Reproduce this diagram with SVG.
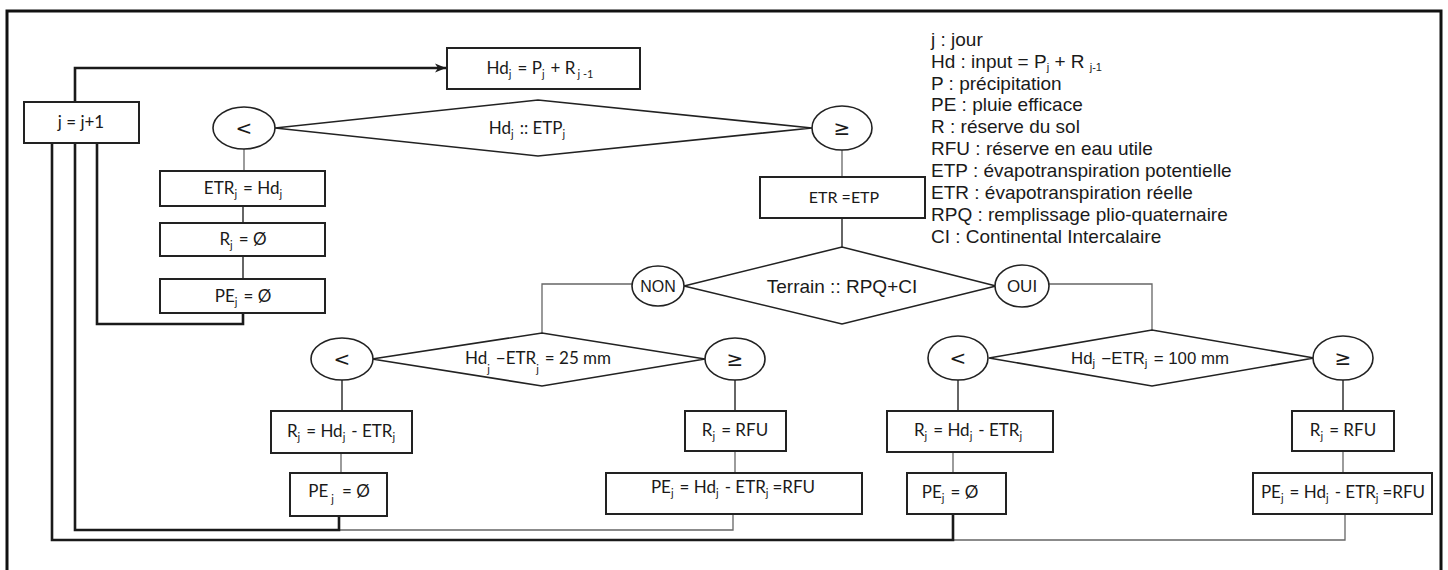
<svg xmlns="http://www.w3.org/2000/svg" width="1448" height="570" viewBox="0 0 1448 570">
<defs>
<marker id="arr" markerWidth="12" markerHeight="10" refX="11" refY="5" orient="auto" markerUnits="userSpaceOnUse">
<path d="M0,0.5 L11,5 L0,9.5 L3,5 Z" fill="#1a1a1a"/>
</marker>
<style>
.box{fill:#fff;stroke:#222;stroke-width:2}
.ell{fill:#fff;stroke:#222;stroke-width:1.6}
.dia{fill:#fff;stroke:#222;stroke-width:1.6}
.t{font-family:Lato,"Open Sans","Liberation Sans",sans-serif;font-size:17px;fill:#1a1a1a}
.g{font-family:"DejaVu Sans","Liberation Sans",sans-serif;font-size:20px;fill:#1a1a1a}
.a{font-family:"Liberation Sans",Arial,sans-serif;fill:#1a1a1a}
.lg{font-family:"Liberation Sans",Arial,sans-serif;font-size:19px;fill:#1a1a1a}
.s{font-size:11px}
.thick{fill:none;stroke:#1a1a1a;stroke-width:2.6}
.thin{fill:none;stroke:#666;stroke-width:1.3}
.med{fill:none;stroke:#333;stroke-width:1.5}
</style>
</defs>
<rect width="1448" height="570" fill="#fff"/>
<path d="M7,575 V11 H1441 V575" fill="none" stroke="#111" stroke-width="3"/>

<g id="connectors">
<path class="thick" d="M75,102 V68 H446" marker-end="url(#arr)"/>
<path class="thin" d="M244,149 V171"/>
<path class="med" d="M243,206 V223"/>
<path class="med" d="M243,256 V279"/>
<path class="thick" d="M243,313 V324 H97 V143"/>
<path class="thin" d="M842,150 V177"/>
<path class="med" d="M842,218 V247"/>
<path class="thin" d="M632,284 H542 V333"/>
<path class="thin" d="M1049,284 H1152 V330"/>
<path class="med" d="M342,380 V411"/>
<path class="thin" d="M341,453 V473"/>
<path class="thin" d="M733,514 V530 H339"/>
<path class="thick" d="M339,516 V530 H75 V143"/>
<path class="med" d="M735,380 V411"/>
<path class="thin" d="M735,451 V473"/>
<path class="med" d="M958,380 V411"/>
<path class="thin" d="M953,452 V473"/>
<path class="thin" d="M1345,514 V540 H953"/>
<path class="thick" d="M953,514 V540 H52 V143"/>
<path class="med" d="M1343,380 V411"/>
<path class="thin" d="M1343,451 V473"/>
</g>

<g id="n-inc">
<rect class="box" x="24" y="102" width="115" height="41"/>
<text class="t" x="81" y="128" text-anchor="middle">j = j+1</text>
</g>

<g id="n-hd">
<rect class="box" x="447" y="48" width="193" height="41"/>
<text class="t" x="540" y="74" text-anchor="middle">Hd<tspan class="s" dy="4">j</tspan><tspan dy="-4" dx="6">= P</tspan><tspan class="s" dy="4">j</tspan><tspan dy="-4" dx="6">+ R</tspan><tspan class="s" dy="4" dx="2">j  -1</tspan></text>
</g>

<g id="n-d1">
<polygon class="dia" points="275,128 538,100 812,128 538,156"/>
<text class="t" x="527" y="134" text-anchor="middle">Hd<tspan class="s" dy="4">j</tspan><tspan dy="-4" dx="6">:: ETP</tspan><tspan class="s" dy="4">j</tspan></text>
</g>

<g id="n-lt1">
<ellipse class="ell" cx="244" cy="128" rx="31" ry="21"/>
<text class="g" x="244" y="135" text-anchor="middle">&lt;</text>
</g>

<g id="n-ge1">
<ellipse class="ell" cx="842" cy="128" rx="30" ry="22"/>
<text class="g" x="842" y="135" text-anchor="middle">≥</text>
</g>

<g id="n-etr1">
<rect class="box" x="160" y="171" width="165" height="35"/>
<text class="t" x="243" y="194" text-anchor="middle">ETR<tspan class="s" dy="4">j</tspan><tspan dy="-4" dx="6">= Hd</tspan><tspan class="s" dy="4">j</tspan></text>
</g>

<g id="n-r1">
<rect class="box" x="160" y="223" width="165" height="33"/>
<text class="t" x="243" y="245" text-anchor="middle">R<tspan class="s" dy="4">j</tspan><tspan dy="-4" dx="6">= Ø</tspan></text>
</g>

<g id="n-pe1">
<rect class="box" x="160" y="279" width="165" height="34"/>
<text class="t" x="243" y="302" text-anchor="middle">PE<tspan class="s" dy="4">j</tspan><tspan dy="-4" dx="6">= Ø</tspan></text>
</g>

<g id="n-etp">
<rect class="box" x="760" y="177" width="165" height="41"/>
<text class="t" x="844" y="203" text-anchor="middle" style="font-size:16px">ETR =ETP</text>
</g>

<g id="n-terrain">
<polygon class="dia" points="684,286 842,247 996,286 842,324"/>
<text class="a" x="842" y="293" text-anchor="middle" font-size="19">Terrain  :: RPQ+CI</text>
</g>

<g id="n-non">
<ellipse class="ell" cx="658" cy="286" rx="26" ry="20"/>
<text class="a" x="658" y="292" text-anchor="middle" font-size="16">NON</text>
</g>

<g id="n-oui">
<ellipse class="ell" cx="1022" cy="286" rx="27" ry="21"/>
<text class="a" x="1022" y="292" text-anchor="middle" font-size="17">OUI</text>
</g>

<g id="n-d25">
<polygon class="dia" points="372,359 542,333 705,359 542,386"/>
<text class="t" x="538" y="364" text-anchor="middle">Hd<tspan class="s" dy="9">j</tspan><tspan dy="-9" dx="6">−ETR</tspan><tspan class="s" dy="9">j</tspan><tspan dy="-9" dx="6">= 25 mm</tspan></text>
</g>

<g id="n-lt2">
<ellipse class="ell" cx="342" cy="359" rx="31" ry="21"/>
<text class="g" x="342" y="366" text-anchor="middle">&lt;</text>
</g>

<g id="n-ge2">
<ellipse class="ell" cx="735" cy="359" rx="30" ry="21"/>
<text class="g" x="735" y="366" text-anchor="middle">≥</text>
</g>

<g id="n-r2">
<rect class="box" x="271" y="411" width="141" height="42"/>
<text class="t" x="341" y="437" text-anchor="middle">R<tspan class="s" dy="4">j</tspan><tspan dy="-4" dx="6">= Hd</tspan><tspan class="s" dy="4">j</tspan><tspan dy="-4" dx="6">- ETR</tspan><tspan class="s" dy="4">j</tspan></text>
</g>

<g id="n-pe2">
<rect class="box" x="290" y="473" width="97" height="43"/>
<text class="t" x="339" y="497" text-anchor="middle">PE<tspan class="s" dy="6" dx="3">j</tspan><tspan dy="-6" dx="8">= Ø</tspan></text>
</g>

<g id="n-r3">
<rect class="box" x="685" y="411" width="101" height="40"/>
<text class="t" x="735" y="436" text-anchor="middle">R<tspan class="s" dy="4">j</tspan><tspan dy="-4" dx="6">= RFU</tspan></text>
</g>

<g id="n-pe3">
<rect class="box" x="606" y="473" width="256" height="41"/>
<text class="t" x="733" y="493" text-anchor="middle">PE<tspan class="s" dy="4">j</tspan><tspan dy="-4" dx="6">= Hd</tspan><tspan class="s" dy="4">j</tspan><tspan dy="-4" dx="6">- ETR</tspan><tspan class="s" dy="4">j</tspan><tspan dy="-4" dx="4">=RFU</tspan></text>
</g>

<g id="n-d100">
<polygon class="dia" points="989,358 1152,330 1314,358 1152,386"/>
<text class="a" x="1150" y="364" text-anchor="middle" font-size="16" textLength="158" lengthAdjust="spacingAndGlyphs">Hd<tspan class="s" dy="3">j</tspan><tspan dy="-3" dx="6">−ETR</tspan><tspan class="s" dy="3">j</tspan><tspan dy="-3" dx="6">= 100 mm</tspan></text>
</g>

<g id="n-lt3">
<ellipse class="ell" cx="958" cy="358" rx="30" ry="22"/>
<text class="g" x="958" y="365" text-anchor="middle">&lt;</text>
</g>

<g id="n-ge3">
<ellipse class="ell" cx="1343" cy="358" rx="30" ry="22"/>
<text class="g" x="1343" y="365" text-anchor="middle">≥</text>
</g>

<g id="n-r4">
<rect class="box" x="887" y="411" width="166" height="41"/>
<text class="t" x="968" y="436" text-anchor="middle">R<tspan class="s" dy="4">j</tspan><tspan dy="-4" dx="6">= Hd</tspan><tspan class="s" dy="4">j</tspan><tspan dy="-4" dx="6">- ETR</tspan><tspan class="s" dy="4">j</tspan></text>
</g>

<g id="n-pe4">
<rect class="box" x="907" y="473" width="99" height="41"/>
<text class="t" x="950" y="498" text-anchor="middle">PE<tspan class="s" dy="4">j</tspan><tspan dy="-4" dx="6">= Ø</tspan></text>
</g>

<g id="n-r5">
<rect class="box" x="1292" y="411" width="102" height="40"/>
<text class="t" x="1343" y="436" text-anchor="middle">R<tspan class="s" dy="4">j</tspan><tspan dy="-4" dx="6">= RFU</tspan></text>
</g>

<g id="n-pe5">
<rect class="box" x="1253" y="473" width="179" height="41"/>
<text class="t" x="1343" y="498" text-anchor="middle">PE<tspan class="s" dy="4">j</tspan><tspan dy="-4" dx="6">= Hd</tspan><tspan class="s" dy="4">j</tspan><tspan dy="-4" dx="6">- ETR</tspan><tspan class="s" dy="4">j</tspan><tspan dy="-4" dx="4">=RFU</tspan></text>
</g>

<g id="legend">
<text class="lg" x="931" y="46">j : jour</text>
<text class="lg" x="931" y="68">Hd : input = P<tspan class="s" dy="3">j</tspan><tspan dy="-3"> + R </tspan><tspan class="s" dy="3">j-1</tspan></text>
<text class="lg" x="931" y="90">P : précipitation</text>
<text class="lg" x="931" y="111">PE : pluie efficace</text>
<text class="lg" x="931" y="133">R : réserve du sol</text>
<text class="lg" x="931" y="155">RFU : réserve en eau utile</text>
<text class="lg" x="931" y="177">ETP : évapotranspiration potentielle</text>
<text class="lg" x="931" y="199">ETR : évapotranspiration réelle</text>
<text class="lg" x="931" y="221">RPQ : remplissage plio-quaternaire</text>
<text class="lg" x="931" y="243">CI : Continental Intercalaire</text>
</g>
</svg>
